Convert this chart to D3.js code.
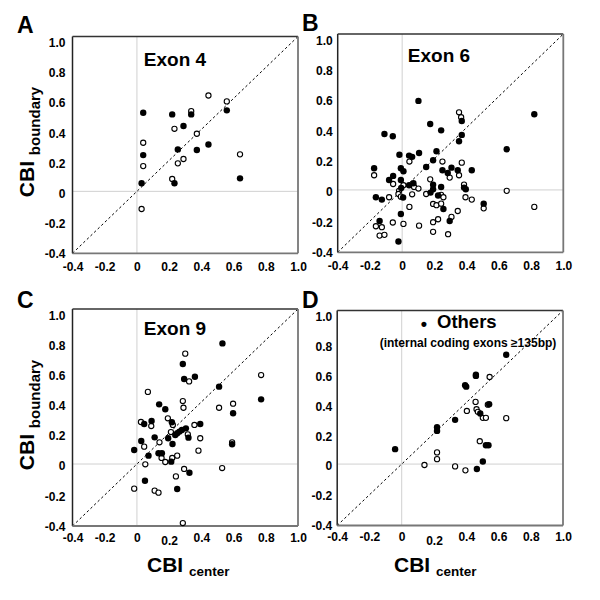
<!DOCTYPE html>
<html><head><meta charset="utf-8">
<script src="https://cdn.jsdelivr.net/npm/d3@7/dist/d3.min.js"></script>
<style>
body{margin:0;background:#fff}
svg{display:block}
text{font-family:"Liberation Sans",Arial,Helvetica,sans-serif;font-weight:bold;fill:#000}
</style>
</head><body>
<svg id="chart" width="600" height="600"></svg>
<script>
// ---- data ----
const tickValues = [-0.4, -0.2, 0, 0.2, 0.4, 0.6, 0.8, 1.0];
const tickLabels = ["-0.4", "-0.2", "0", "0.2", "0.4", "0.6", "0.8", "1.0"];
const domainRange = [-0.4, 1.0];

const panelLetters = ["A", "B", "C", "D"];
const panelTitles = ["Exon 4", "Exon 6", "Exon 9", "Others"];
const othersSubtitle = "(internal coding exons \u2265135bp)";
const xTitleMain = "CBI";
const xTitleSub = "center";
const yTitleMain = "CBI";
const yTitleSub = "boundary";

// [CBI center, CBI boundary]
const exon4Filled = [[0.039,0.508],[0.219,0.497],[0.337,0.497],[0.289,0.422],[0.558,0.523],[0.039,0.234],[0.254,0.271],[0.372,0.267],[0.444,0.303],[0.029,0.052],[0.233,0.052],[0.640,0.084]];
const exon4Open = [[0.444,0.619],[0.558,0.581],[0.337,0.518],[0.233,0.404],[0.372,0.372],[0.039,0.314],[0.039,0.163],[0.254,0.181],[0.289,0.209],[0.219,0.080],[0.640,0.239],[0.029,-0.114]];

const exon6Filled = [[0.101,0.571],[0.174,0.423],[0.242,0.382],[-0.110,0.359],[-0.058,0.344],[0.370,0.442],[0.370,0.353],[0.353,0.312],[0.820,0.485],[0.649,0.261],[-0.017,0.226],[0.043,0.220],[0.062,0.212],[0.105,0.237],[0.213,0.248],[0.192,0.190],[0.149,0.147],[-0.174,0.139],[-0.008,0.139],[0.008,0.120],[0.250,0.126],[0.306,0.143],[0.283,0.109],[0.345,0.126],[0.432,0.126],[-0.056,0.090],[-0.081,0.064],[-0.008,0.064],[0.043,0.030],[0.070,0.043],[0.192,0.034],[0.192,0.004],[0.242,0.019],[0.176,-0.017],[0.384,0.015],[0.395,0.004],[-0.006,0.012],[-0.163,-0.047],[-0.126,-0.062],[0.006,-0.049],[0.223,-0.036],[0.256,-0.122],[0.506,-0.088],[-0.008,-0.154],[-0.140,-0.199],[0.295,-0.199],[-0.023,-0.331]];
const exon6Open = [[0.353,0.498],[0.366,0.466],[0.045,0.182],[0.250,0.182],[0.370,0.175],[-0.174,0.094],[0.295,0.079],[0.353,0.094],[0.174,0.068],[-0.056,0.038],[0.008,0.030],[0.074,0.019],[0.101,0.009],[0.384,0.034],[-0.019,-0.006],[-0.023,-0.026],[-0.008,-0.043],[-0.081,-0.047],[0.062,-0.028],[0.149,-0.026],[0.242,-0.032],[0.256,-0.047],[0.393,-0.047],[0.432,-0.062],[0.649,-0.006],[0.820,-0.109],[0.192,-0.090],[0.213,-0.098],[0.242,-0.088],[0.045,-0.109],[0.345,-0.135],[0.506,-0.118],[0.306,-0.173],[0.223,-0.188],[0.192,-0.207],[-0.058,-0.209],[0.008,-0.218],[0.105,-0.229],[-0.163,-0.233],[-0.126,-0.239],[-0.140,-0.293],[-0.110,-0.288],[0.192,-0.269],[0.285,-0.284]];

const exon9Filled = [[0.531,0.778],[0.285,0.645],[0.293,0.548],[0.360,0.563],[0.510,0.499],[0.771,0.417],[0.138,0.385],[0.176,0.353],[0.597,0.327],[0.091,0.277],[0.045,0.258],[0.217,0.269],[0.393,0.258],[0.304,0.230],[0.279,0.219],[0.264,0.209],[0.250,0.198],[0.238,0.187],[0.110,0.172],[0.194,0.166],[0.320,0.170],[0.027,0.148],[0.221,0.129],[-0.017,0.090],[0.134,0.069],[0.155,0.069],[0.072,0.054],[0.213,0.015],[0.591,0.127],[0.326,-0.056],[0.050,-0.108],[0.250,-0.161]];
const exon9Open = [[0.300,0.712],[0.771,0.574],[0.324,0.533],[0.068,0.465],[0.285,0.406],[0.597,0.389],[0.289,0.363],[0.510,0.363],[0.192,0.295],[0.025,0.271],[0.089,0.245],[0.223,0.252],[0.357,0.252],[0.211,0.206],[0.316,0.191],[0.393,0.166],[0.140,0.140],[0.045,0.112],[0.591,0.140],[0.382,0.086],[0.250,0.054],[0.153,0.039],[0.219,0.039],[0.176,0.013],[0.052,-0.002],[0.293,-0.032],[0.529,-0.026],[0.242,-0.080],[-0.017,-0.159],[0.110,-0.172],[0.134,-0.185],[0.285,-0.381]];

const othersFilled = [[0.648,0.712],[0.460,0.582],[0.460,0.574],[0.393,0.513],[0.400,0.504],[0.542,0.390],[0.487,0.329],[0.331,0.288],[0.219,0.240],[0.219,0.216],[-0.041,0.097],[0.522,0.123],[0.538,0.123],[0.503,0.017],[0.466,-0.032]];
const othersOpen = [[0.545,0.567],[0.458,0.405],[0.534,0.387],[0.404,0.346],[0.464,0.357],[0.472,0.340],[0.503,0.301],[0.522,0.301],[0.648,0.299],[0.484,0.149],[0.219,0.076],[0.219,0.032],[0.141,-0.006],[0.331,-0.015],[0.395,-0.041]];

const filledSets = [exon4Filled, exon6Filled, exon9Filled, othersFilled];
const openSets = [exon4Open, exon6Open, exon9Open, othersOpen];

// ---- layout ----
const layout = [
  {left:72.5, right:298, top:36.5, bottom:253.3, letterX:17, letterY:33, titleX:175, titleY:66, yTitleX:34, yTitleY:142, showXTitle:false, labelGap:7},
  {left:337.7, right:563.3, top:34, bottom:252.3, letterX:302, letterY:31, titleX:439, titleY:62, showXTitle:false, labelGap:5},
  {left:72.5, right:298, top:309, bottom:526, letterX:17, letterY:308, titleX:175, titleY:335, yTitleX:34, yTitleY:415, showXTitle:true, xTitleX:147, xTitleY:572, labelGap:7},
  {left:337.2, right:563, top:310.5, bottom:525.5, letterX:302, letterY:308, titleX:437, titleY:328, showXTitle:true, xTitleX:394, xTitleY:572, labelGap:5}
];

const svg = d3.select("#chart");

layout.forEach((L, i) => {
  const x = d3.scaleLinear().domain(domainRange).range([L.left, L.right]);
  const y = d3.scaleLinear().domain(domainRange).range([L.bottom, L.top]);
  const g = svg.append("g");

  // zero reference lines
  g.append("line").attr("x1", x(0)).attr("x2", x(0)).attr("y1", y(domainRange[0])).attr("y2", y(domainRange[1]))
    .attr("stroke", "#d0d0d0").attr("stroke-width", 1);
  g.append("line").attr("x1", x(domainRange[0])).attr("x2", x(domainRange[1])).attr("y1", y(0)).attr("y2", y(0))
    .attr("stroke", "#d0d0d0").attr("stroke-width", 1);

  // diagonal y = x
  g.append("line").attr("x1", x(domainRange[0])).attr("y1", y(domainRange[0]))
    .attr("x2", x(domainRange[1])).attr("y2", y(domainRange[1]))
    .attr("stroke", "#000").attr("stroke-width", 1).attr("stroke-dasharray", "2.5,2.5");

  // frame
  g.append("line").attr("x1", L.left).attr("x2", L.left).attr("y1", L.top).attr("y2", L.bottom).attr("stroke", "#222").attr("stroke-width", 1.5);
  g.append("line").attr("x1", L.left).attr("x2", L.right).attr("y1", L.top).attr("y2", L.top).attr("stroke", "#333").attr("stroke-width", 1.5);
  g.append("line").attr("x1", L.right).attr("x2", L.right).attr("y1", L.top).attr("y2", L.bottom).attr("stroke", "#777").attr("stroke-width", 1.8);
  g.append("line").attr("x1", L.left).attr("x2", L.right).attr("y1", L.bottom).attr("y2", L.bottom).attr("stroke", "#777").attr("stroke-width", 1.8);

  // axes
  const fmt = v => tickLabels[tickValues.indexOf(v)];
  const xa = g.append("g").attr("transform", `translate(0,${L.bottom})`)
    .call(d3.axisBottom(x).tickValues(tickValues).tickFormat(fmt).tickSize(0).tickPadding(i < 2 ? 9 : 7));
  const ya = g.append("g").attr("transform", `translate(${L.left},0)`)
    .call(d3.axisLeft(y).tickValues(tickValues).tickFormat(fmt).tickSize(0).tickPadding(L.labelGap));
  [xa, ya].forEach(a => {
    a.select(".domain").remove();
    a.selectAll("text").style("font-size", "12px").style("font-family", '"Liberation Sans",Arial,sans-serif').style("font-weight", "bold").attr("fill", "#000");
  });
  // labels in the original sit slightly compressed toward the bottom
  ya.selectAll("text").attr("dy", "0.35em").attr("y", d => 6 * (d - domainRange[0]) / (domainRange[1] - domainRange[0]));
  if (i >= 2) xa.selectAll(".tick").filter(d => d === 0.2).select("text").attr("dy", "1.0em");

  // points
  g.selectAll("circle.open").data(openSets[i]).join("circle").attr("class", "open")
    .attr("cx", d => x(d[0])).attr("cy", d => y(d[1])).attr("r", 2.6)
    .attr("fill", "#fff").attr("stroke", "#000").attr("stroke-width", 1.1);
  g.selectAll("circle.filled").data(filledSets[i]).join("circle").attr("class", "filled")
    .attr("cx", d => x(d[0])).attr("cy", d => y(d[1])).attr("r", 3.2)
    .attr("fill", "#000");

  // panel letter
  svg.append("text").attr("x", L.letterX).attr("y", L.letterY).style("font-size", "23px").text(panelLetters[i]);

  // panel title
  if (i < 3) {
    svg.append("text").attr("x", L.titleX).attr("y", L.titleY).attr("text-anchor", "middle").style("font-size", "19px").text(panelTitles[i]);
  } else {
    svg.append("text").attr("x", 424).attr("y", 330).attr("text-anchor", "middle").style("font-size", "18px").text("\u2022");
    svg.append("text").attr("x", L.titleX).attr("y", L.titleY).style("font-size", "18.5px").text(panelTitles[i]);
    svg.append("text").attr("x", 468).attr("y", 347).attr("text-anchor", "middle").style("font-size", "12px").text(othersSubtitle);
  }

  // y title
  if (L.yTitleX !== undefined) {
    const t = svg.append("text").attr("transform", `translate(${L.yTitleX},${L.yTitleY}) rotate(-90)`).attr("text-anchor", "middle");
    t.append("tspan").style("font-size", "21px").text(yTitleMain + " ");
    t.append("tspan").attr("dy", 6).style("font-size", "15px").text(yTitleSub);
  }
  // x title
  if (L.showXTitle) {
    const t = svg.append("text").attr("x", L.xTitleX).attr("y", L.xTitleY);
    t.append("tspan").style("font-size", "21px").text(xTitleMain + " ");
    t.append("tspan").attr("dy", 4).style("font-size", "13.5px").text(xTitleSub);
  }
});
</script>
</body></html>
